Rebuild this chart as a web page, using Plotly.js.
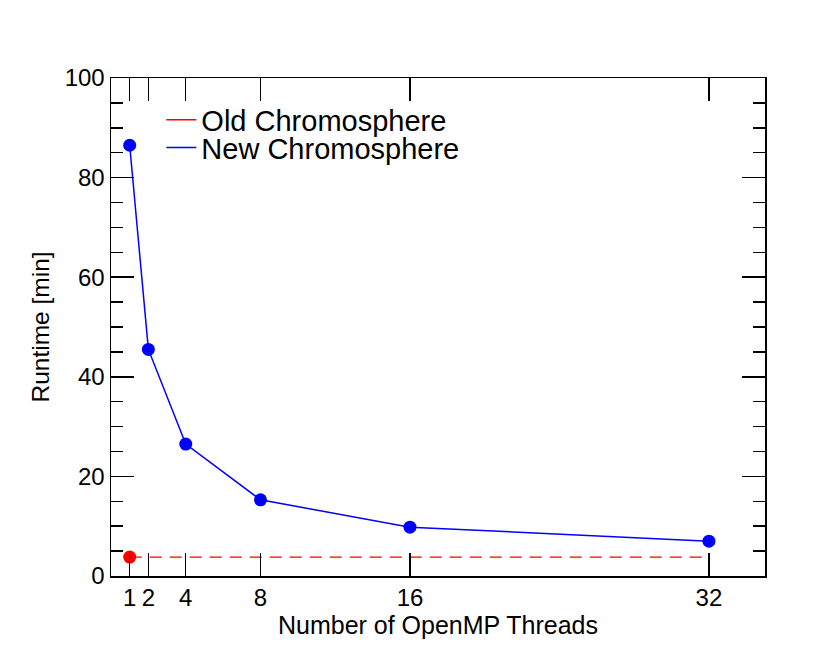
<!DOCTYPE html>
<html>
<head>
<meta charset="utf-8">
<script src="https://cdn.plot.ly/plotly-3.0.1.min.js"></script>
<style>
  html, body { margin: 0; padding: 0; background: #fff; }
  #chart { width: 830px; height: 664px; }
</style>
</head>
<body>
<div id="chart"></div>
<script>
// values
const threads = [1, 2, 4, 8, 16, 32];
const newRuntime = [86.5, 45.5, 26.5, 15.3, 9.8, 7.0];
const oldThreads = [1];
const oldRuntime = [3.8];
const oldSpanX = [1, 32];
const xTickVals = [1, 2, 4, 8, 16, 32];

const BLUE = '#0000ff';
const RED = '#ff0000';
const FONT = 'Liberation Sans, Arial, sans-serif';

const traces = [
    {
        // dashed reference level of the old code
        x: oldSpanX,
        y: oldSpanX.map(() => oldRuntime[0]),
        type: 'scatter',
        mode: 'lines',
        line: {color: RED, width: 1.3, dash: '12px,8px'},
        showlegend: false,
        hoverinfo: 'skip',
    },
    {
        x: oldThreads,
        y: oldRuntime,
        type: 'scatter',
        mode: 'markers',
        marker: {color: RED, size: 13},
        showlegend: false,
    },
    {
        x: threads,
        y: newRuntime,
        type: 'scatter',
        mode: 'lines+markers',
        line: {color: BLUE, width: 1.5},
        marker: {color: BLUE, size: 13},
        showlegend: false,
    },
    // legend entries only (plain lines, like the original); one legend each so rows sit tight
    {x: [null], y: [null], type: 'scatter', mode: 'lines', name: 'Old Chromosphere',
        line: {color: RED, width: 1.5}, legend: 'legend'},
    {x: [null], y: [null], type: 'scatter', mode: 'lines', name: 'New Chromosphere',
        line: {color: BLUE, width: 1.5}, legend: 'legend2'},
];

function legendAt(yPaper) {
    return {
        x: 0.077,
        y: yPaper,
        xanchor: 'left',
        yanchor: 'middle',
        bgcolor: 'rgba(0,0,0,0)',
        font: {family: FONT, size: 29, color: '#000'},
        itemwidth: 30,
    };
}

const layout = {
    width: 830,
    height: 664,
    margin: {l: 111, r: 65, t: 78, b: 88},
    paper_bgcolor: '#fff',
    plot_bgcolor: '#fff',
    font: {family: FONT, size: 24, color: '#000'},
    showlegend: true,
    legend: legendAt(0.916),
    legend2: legendAt(0.860),
    xaxis: {
        range: [0, 35],
        tickvals: xTickVals,
        ticktext: xTickVals.map(String),
        ticks: 'inside',
        ticklen: 23,
        tickwidth: 1.5,
        tickcolor: '#000',
        showline: true,
        linecolor: '#000',
        linewidth: 1.5,
        mirror: 'ticks',
        showgrid: false,
        zeroline: false,
        tickfont: {size: 24},
        title: {text: 'Number of OpenMP Threads', font: {size: 25}, standoff: 6},
    },
    yaxis: {
        range: [0, 100],
        dtick: 20,
        ticks: 'inside',
        ticklen: 23,
        tickwidth: 1.5,
        tickcolor: '#000',
        showline: true,
        linecolor: '#000',
        linewidth: 1.5,
        mirror: 'ticks',
        showgrid: false,
        zeroline: false,
        tickfont: {size: 24},
        minor: {dtick: 5, ticks: 'inside', ticklen: 12, tickwidth: 1.5, tickcolor: '#000', showgrid: false},
        title: {text: 'Runtime [min]', font: {size: 24.5}, standoff: 8},
    },
};

Plotly.newPlot('chart', traces, layout, {displayModeBar: false, staticPlot: true});
</script>
</body>
</html>
